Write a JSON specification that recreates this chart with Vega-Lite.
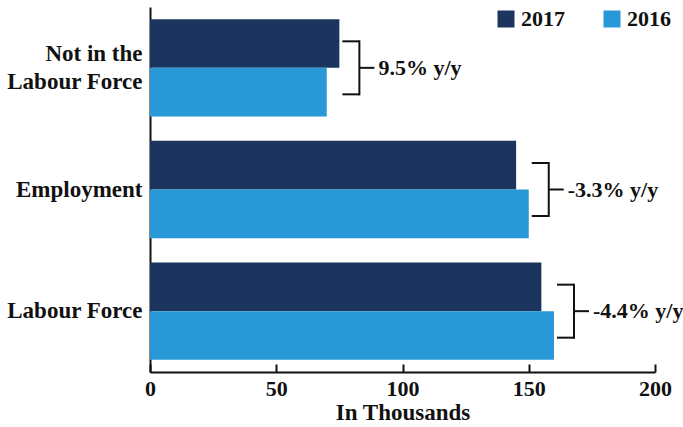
{
  "$schema": "https://vega.github.io/schema/vega-lite/v6.json",
  "autosize": "none",
  "width": 505,
  "height": 365,
  "padding": {"left": 150, "top": 7, "right": 28, "bottom": 55},
  "background": "white",
  "config": {
    "font": "Liberation Serif",
    "view": {"stroke": null},
    "text": {"font": "Liberation Serif"},
    "axis": {"labelFont": "Liberation Serif", "titleFont": "Liberation Serif", "labelColor": "#111", "titleColor": "#111"},
    "legend": {"labelFont": "Liberation Serif"}
  },
  "datasets": {
    "rows": [
      {"category": "Not in the Labour Force", "year": "2017", "value": 75},
      {"category": "Not in the Labour Force", "year": "2016", "value": 70},
      {"category": "Employment", "year": "2017", "value": 145},
      {"category": "Employment", "year": "2016", "value": 150},
      {"category": "Labour Force", "year": "2017", "value": 155},
      {"category": "Labour Force", "year": "2016", "value": 160}
    ],
    "changes": [
      {"category": "Not in the Labour Force", "change": "9.5% y/y"},
      {"category": "Employment", "change": "-3.3% y/y"},
      {"category": "Labour Force", "change": "-4.4% y/y"}
    ]
  },
  "data": {"name": "rows"},
  "encoding": {
    "y": {
      "field": "category",
      "type": "nominal",
      "sort": ["Not in the Labour Force", "Employment", "Labour Force"],
      "scale": {"paddingInner": 0.2, "paddingOuter": 0.1},
      "axis": {
        "title": null,
        "domainColor": "#111",
        "domainWidth": 2,
        "ticks": false,
        "labelPadding": 8,
        "labelFontSize": 23,
        "labelFontWeight": "bold",
        "labelLineHeight": 28,
        "labelOffset": {"condition": {"test": "datum.value == 'Not in the Labour Force'", "value": -14}, "value": 0},
        "labelExpr": "datum.value == 'Not in the Labour Force' ? ['Not in the', 'Labour Force'] : datum.value"
      }
    }
  },
  "layer": [
    {
      "mark": {"type": "bar"},
      "encoding": {
        "x": {
          "field": "value",
          "type": "quantitative",
          "scale": {"domain": [0, 200], "nice": false},
          "axis": {
            "title": "In Thousands",
            "values": [0, 50, 100, 150, 200],
            "grid": false,
            "labelFlush": false,
            "domainColor": "#111",
            "domainWidth": 2,
            "tickColor": "#111",
            "tickWidth": 2,
            "tickSize": -8,
            "labelPadding": 14,
            "labelFontSize": 22,
            "labelFontWeight": "bold",
            "titleFontSize": 23,
            "titleFontWeight": "bold",
            "titlePadding": 2
          }
        },
        "yOffset": {"field": "year", "type": "nominal", "sort": ["2017", "2016"]},
        "color": {
          "field": "year",
          "type": "nominal",
          "sort": ["2017", "2016"],
          "scale": {"domain": ["2017", "2016"], "range": ["#1c355e", "#2898d6"]},
          "legend": {
            "title": null,
            "orient": "none",
            "direction": "horizontal",
            "legendX": 345,
            "legendY": 1,
            "symbolType": "square",
            "symbolSize": 289,
            "symbolStrokeWidth": 0,
            "symbolOpacity": 1,
            "labelFontSize": 22,
            "labelFontWeight": "bold",
            "labelColor": "#111",
            "labelOffset": 4,
            "columnPadding": 36
          }
        }
      }
    },
    {
      "transform": [
        {"aggregate": [{"op": "max", "field": "value", "as": "top"}], "groupby": ["category"]},
        {"lookup": "category", "from": {"data": {"name": "changes"}, "key": "category", "fields": ["change"]}}
      ],
      "layer": [
        {
          "mark": {"type": "rule", "color": "#111", "strokeWidth": 2, "xOffset": 3, "x2Offset": 20, "yOffset": -26.5},
          "encoding": {"x": {"field": "top", "type": "quantitative"}, "x2": {"field": "top"}}
        },
        {
          "mark": {"type": "rule", "color": "#111", "strokeWidth": 2, "xOffset": 3, "x2Offset": 20, "yOffset": 26.5},
          "encoding": {"x": {"field": "top", "type": "quantitative"}, "x2": {"field": "top"}}
        },
        {
          "mark": {"type": "rule", "color": "#111", "strokeWidth": 2, "xOffset": 20, "yOffset": -27.5, "y2Offset": 27.5},
          "encoding": {"x": {"field": "top", "type": "quantitative"}, "y2": {"field": "category"}}
        },
        {
          "mark": {"type": "rule", "color": "#111", "strokeWidth": 2, "xOffset": 20, "x2Offset": 35},
          "encoding": {"x": {"field": "top", "type": "quantitative"}, "x2": {"field": "top"}}
        },
        {
          "mark": {"type": "text", "align": "left", "baseline": "middle", "xOffset": 39, "fontSize": 22, "fontWeight": "bold", "color": "#111"},
          "encoding": {"x": {"field": "top", "type": "quantitative"}, "text": {"field": "change"}}
        }
      ]
    }
  ]
}
